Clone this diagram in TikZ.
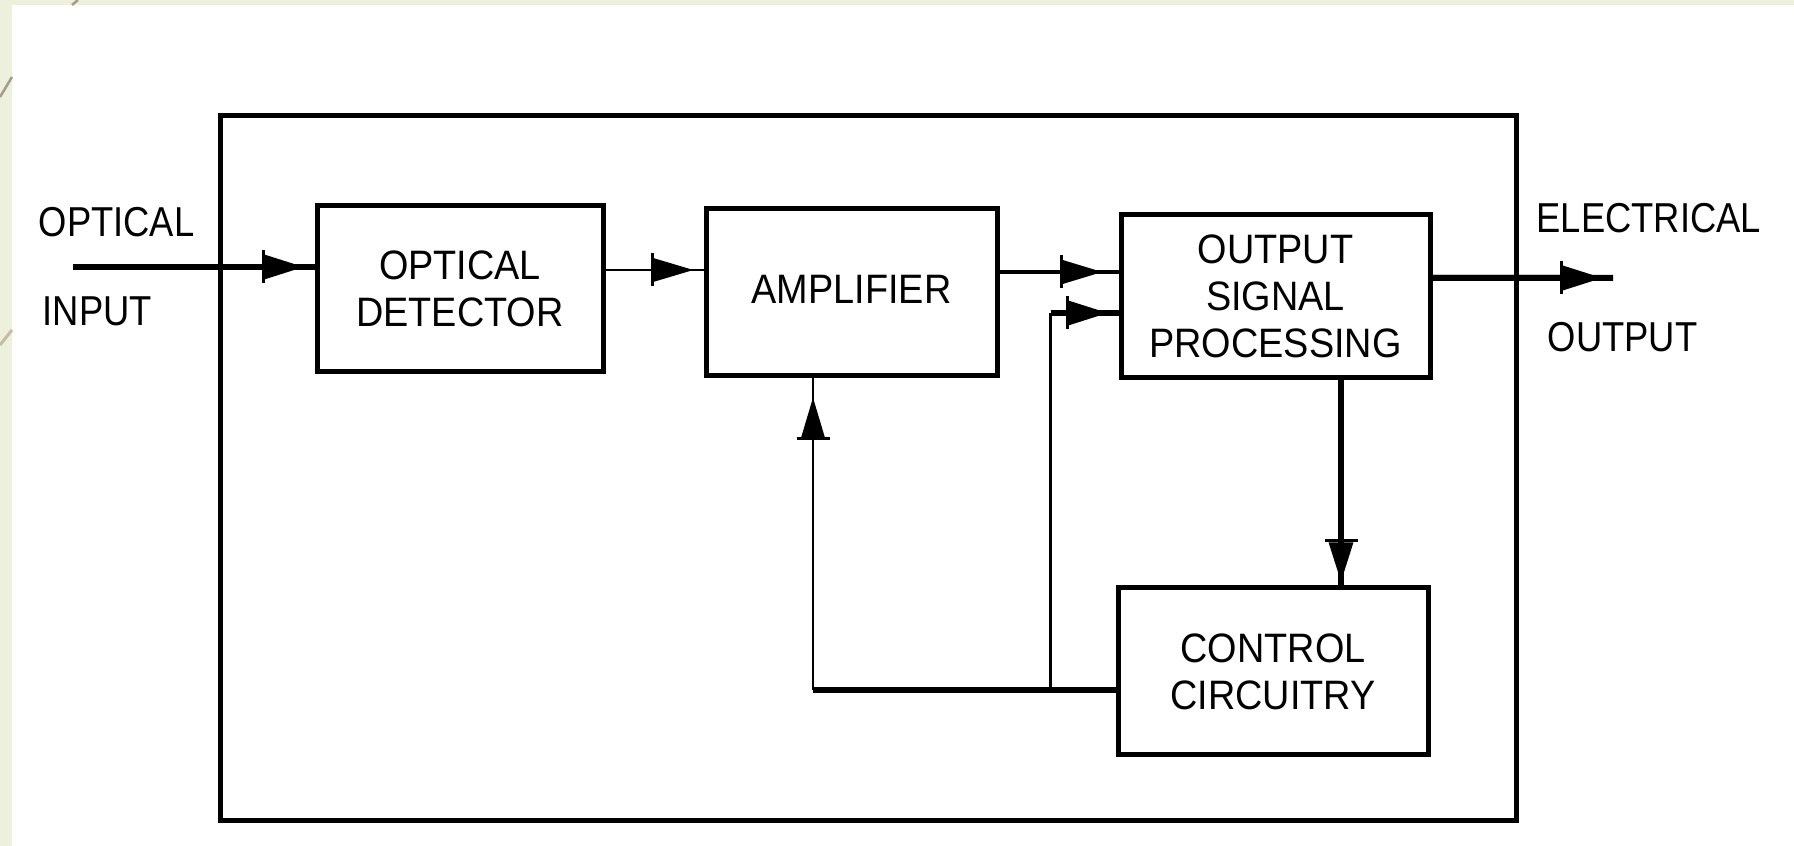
\documentclass[tikz,border=0pt]{standalone}
\usepackage{fontspec}
\setmainfont{Liberation Sans}[FakeStretch=0.92]
\newfontfamily\narrowlbl{Liberation Sans}[FakeStretch=0.87]
\usetikzlibrary{arrows.meta,calc}
\definecolor{slidebg}{HTML}{ECF0DD}
\definecolor{decoline}{HTML}{A49E8A}
\begin{document}
\begin{tikzpicture}[x=0.1mm,y=-0.1mm,
  every node/.style={font=\fontsize{11.7pt}{13.4pt}\selectfont},
  blk/.style={draw, line width=0.5mm, inner sep=0pt, align=center},
  lbl/.style={inner sep=0pt, anchor=west, font=\narrowlbl\fontsize{11.9pt}{13.4pt}\selectfont},
  tip/.style={-{Bar[width=3.3mm,line width=0.3mm]Triangle[length=4mm,width=2.3mm]}},
  wthin/.style={line width=0.28mm},
  wmid/.style={line width=0.4mm},
  wthick/.style={line width=0.6mm}]
% background
\useasboundingbox (0,0) rectangle (1794,846);
\fill[slidebg] (0,0) rectangle (1794,846);
\fill[white] (12,5) rectangle (1794,846);
\draw[decoline, line width=0.25mm] (0,97) -- (12,77);
\draw[decoline, line width=0.25mm] (72,5) -- (78,0);
\draw[decoline!120!black, line width=0.3mm] (0,345) -- (12,330);
% frame and blocks
\node[draw, line width=0.5mm, minimum width=129.6mm, minimum height=70.5mm, inner sep=0pt] (frame) at (868,468.5) {};
\node[blk, minimum width=28.6mm, minimum height=16.6mm] (det) at (460,289) {OPTICAL\\DETECTOR};
\node[blk, minimum width=29.1mm, minimum height=16.7mm] (amp) at (851.5,292.5) {\raisebox{0.6mm}{AMPLIFIER}};
\node[blk, minimum width=30.9mm, minimum height=16.3mm] (osp) at (1275.5,296.5) {OUTPUT\\SIGNAL\\PROCESSING};
\node[blk, minimum width=31mm, minimum height=16.7mm] (ctrl) at (1273,671.5) {CONTROL\\CIRCUITRY};
% outer labels
\node[lbl] (lopt) at (38,222) {OPTICAL};
\node[lbl] (linp) at (42,311) {INPUT};
\node[lbl] (lele) at (1536,218) {ELECTRICAL};
\node[lbl] (lout) at (1547,337) {OUTPUT};
% input
\coordinate (inS) at (73,267);
\draw[wthick] (inS) -- (inS -| det.west);
\draw[wthick, tip] (inS) -- ($(inS -| det.west)+(-10,0)$);
% detector -> amplifier
\coordinate (d1) at ([yshift=1.9mm]det.east);
\draw[wthin] (d1) -- (d1 -| amp.west);
\draw[wthin, tip] (d1) -- ($(d1 -| amp.west)+(-10,0)$);
% amplifier -> output signal processing
\coordinate (a2) at ([yshift=2.05mm]amp.east);
\draw[wmid] (a2) -- (a2 -| osp.west);
\draw[wmid, tip] (a2) -- ($(a2 -| osp.west)+(-16,0)$);
% control -> amplifier feedback
\coordinate (c1) at ([yshift=-1.85mm]ctrl.west);
\coordinate (a1) at ([xshift=-3.85mm]amp.south);
\draw[wthick] (c1) -- (c1 -| a1);
\draw[wthin] (c1 -| a1) -- (a1);
\draw[wthin, tip] (c1 -| a1) -- ([yshift=-1.9mm]a1);
% control -> output signal processing feedback
\coordinate (o1) at ([yshift=-1.65mm]osp.west);
\coordinate (fb) at ([xshift=-6.8mm]o1);
\draw[wthin] (fb |- c1) -- (fb);
\draw[wthick] (fb) -- (o1);
\draw[wthick, tip] (fb) -- ([xshift=-1mm]o1);
% output signal processing -> control
\coordinate (s1) at ([xshift=6.55mm]osp.south);
\draw[wthick] (s1) -- (s1 |- ctrl.north);
\draw[wthick, tip] (s1) -- ($(s1 |- ctrl.north)+(0,-3)$);
% output
\coordinate (e1) at ([yshift=1.85mm]osp.east);
\coordinate (outE) at (1613,278);
\draw[wthick] (e1) -- (outE);
\draw[wthick, tip] (e1) -- ([xshift=-1mm]outE);
\end{tikzpicture}
\end{document}
